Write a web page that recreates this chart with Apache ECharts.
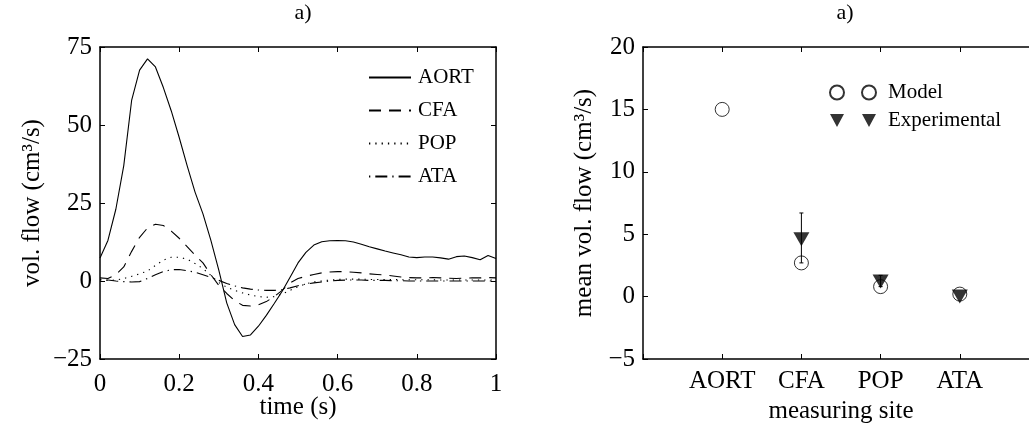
<!DOCTYPE html>
<html>
<head>
<meta charset="utf-8">
<script src="https://cdn.jsdelivr.net/npm/echarts@6/dist/echarts.min.js"></script>
<style>html,body{margin:0;padding:0;background:#fff}#c{width:1029px;height:428px}</style>
</head>
<body>
<div id="c"></div>
<script>
// ---- data ----
var time = [0,0.02,0.04,0.06,0.08,0.10,0.12,0.14,0.16,0.18,0.20,0.22,0.24,0.26,0.28,0.30,0.32,0.34,0.36,0.38,0.40,0.42,0.44,0.46,0.48,0.50,0.52,0.54,0.56,0.58,0.60,0.62,0.64,0.66,0.68,0.70,0.72,0.74,0.76,0.78,0.80,0.82,0.84,0.86,0.88,0.90,0.92,0.94,0.96,0.98,1.00];
var aort = [7.4,13,23,37,58,67.6,71.2,68.6,62,54.5,46,37,28.5,21.5,13,3.5,-7,-14,-17.8,-17.3,-14.5,-11,-7.2,-3.3,1.2,5.8,9.2,11.5,12.6,12.9,13,12.9,12.5,11.8,11,10.3,9.6,9,8.4,7.7,7.5,7.7,7.7,7.4,7,7.8,8,7.5,6.8,8.2,7.2];
var cfa = [1,0.8,2,4.5,9.5,14,17,18.2,17.8,16,13.7,11,8.3,5.8,2,-1.4,-4,-6.3,-7.8,-8,-7.6,-6.6,-5,-3,-0.6,0.8,1.5,2.1,2.6,2.9,3,3,2.8,2.6,2.3,2.1,1.9,1.6,1.3,1.1,1,1,1.1,1,0.9,0.8,0.9,1,1,1.1,1];
var pop = [0.3,0.2,0.3,0.8,1.5,2.3,3.2,5,6.7,7.6,7.6,7,5.6,4,1.8,-0.5,-2,-3,-3.8,-4.5,-5,-5.2,-5,-4.2,-3,-1.8,-0.9,-0.3,0,0.3,0.5,0.6,0.6,0.6,0.5,0.5,0.5,0.5,0.4,0.4,0.4,0.4,0.4,0.3,0.3,0.3,0.3,0.3,0.3,0.3,0.3];
var ata = [0.5,0.3,0,-0.2,-0.3,-0.2,0.8,2,3,3.6,3.7,3.3,2.8,2,1.2,0.2,-0.8,-1.6,-2.2,-2.6,-2.9,-3,-3,-2.8,-2.2,-1.5,-1,-0.6,-0.3,0,0.2,0.3,0.3,0.3,0.2,0.2,0.2,0.1,0.1,0,0,0,0,0,0,0,0,0,0,0,0];
var sites = ['AORT','CFA','POP','ATA'];
var modelMean = [15,2.7,0.8,0.2];
var expMean = [null,4.6,1.2,0];
var expLow = [null,2.7,0.8,null];
var expHigh = [null,6.7,1.7,null];

function pairs(xs, ys){ var o=[]; for(var i=0;i<xs.length;i++){ if(ys[i]!==null) o.push([xs[i],ys[i]]);} return o; }
var sitePos = sites.map(function(s,i){return i+1;});
var errData = []; for (var i=0;i<sites.length;i++){ if(expLow[i]!==null) errData.push([sitePos[i],expLow[i],expHigh[i]]); }

var F = 'Liberation Serif';
var black = '#000';
var FS = 25;
function minus(v){ return String(v).replace('-', '\u2212'); }
var frameLine = {show:true, onZero:false, lineStyle:{color:black, width:1.5}};
var tick = {show:true, inside:true, length:5, lineStyle:{color:black, width:1}};
var lab = {color:black, fontFamily:F, fontSize:FS};
var nameStyle = {fontFamily:F, fontSize:FS, color:black};

var chart = echarts.init(document.getElementById('c'), null, {renderer:'canvas'});
chart.setOption({
  animation:false,
  backgroundColor:'#fff',
  textStyle:{fontFamily:F, color:black},
  title:[
    {text:'a)', left:298, top:-3, textAlign:'center', textStyle:{fontFamily:F, fontSize:22, fontWeight:'normal', color:black}},
    {text:'a)', left:840, top:-3, textAlign:'center', textStyle:{fontFamily:F, fontSize:22, fontWeight:'normal', color:black}}
  ],
  legend:[
    {data:['AORT','CFA','POP','ATA'], orient:'vertical', left:363, top:62, itemWidth:42, itemHeight:16, itemGap:12,
     itemStyle:{opacity:0},
     textStyle:{fontFamily:F, fontSize:21, color:black, padding:[0,0,0,2]}},
    {data:[{name:'Model', icon:'path://M0,7A7,7 0 1,0 14,7A7,7 0 1,0 0,7ZM32,7A7,7 0 1,0 46,7A7,7 0 1,0 32,7Z'},
           {name:'Experimental', icon:'path://M0,0L14,0L7,13ZM32,0L46,0L39,13Z'}],
     orient:'vertical', left:824, top:77, itemWidth:46, itemHeight:14, itemGap:7,
     textStyle:{fontFamily:F, fontSize:21, color:black, padding:[0,0,0,7]}}
  ],
  grid:[
    {left:100, top:47, width:396, height:312, containLabel:false, outerBoundsMode:'none'},
    {left:643, top:47, width:396, height:312, containLabel:false, outerBoundsMode:'none'}
  ],
  xAxis:[
    {type:'value', gridIndex:0, min:0, max:1, interval:0.2, position:'bottom', axisLine:frameLine, axisTick:tick,
     splitLine:{show:false}, axisLabel:Object.assign({margin:13, formatter:function(v){return (v===0||v===1)?String(v):v.toFixed(1);}}, lab),
     name:'time (s)', nameLocation:'middle', nameGap:36, nameMoveOverlap:false, nameTextStyle:nameStyle},
    {type:'value', gridIndex:0, min:0, max:1, interval:0.2, position:'top', axisLine:frameLine, axisTick:tick,
     splitLine:{show:false}, axisLabel:{show:false}},
    {type:'value', gridIndex:1, min:0, max:5, interval:1, position:'bottom', axisLine:frameLine, axisTick:tick,
     splitLine:{show:false}, axisLabel:Object.assign({margin:10, formatter:function(v){return sites[v-1]||'';}}, lab),
     name:'measuring site', nameLocation:'middle', nameGap:37, nameTextStyle:nameStyle},
    {type:'value', gridIndex:1, min:0, max:5, interval:1, position:'top', axisLine:frameLine, axisTick:tick,
     splitLine:{show:false}, axisLabel:{show:false}}
  ],
  yAxis:[
    {type:'value', gridIndex:0, min:-25, max:75, interval:25, position:'left', axisLine:frameLine, axisTick:tick,
     splitLine:{show:false}, axisLabel:Object.assign({margin:8, formatter:minus}, lab),
     name:'vol. flow (cm\u00b3/s)', nameLocation:'middle', nameGap:55, nameTextStyle:nameStyle},
    {type:'value', gridIndex:0, min:-25, max:75, interval:25, position:'right', axisLine:frameLine, axisTick:tick,
     splitLine:{show:false}, axisLabel:{show:false}},
    {type:'value', gridIndex:1, min:-5, max:20, interval:5, position:'left', axisLine:frameLine, axisTick:tick,
     splitLine:{show:false}, axisLabel:Object.assign({margin:8, formatter:minus}, lab),
     name:'mean vol. flow (cm\u00b3/s)', nameLocation:'middle', nameGap:46, nameTextStyle:nameStyle},
    {type:'value', gridIndex:1, min:-5, max:20, interval:5, position:'right', axisLine:frameLine, axisTick:tick,
     splitLine:{show:false}, axisLabel:{show:false}}
  ],
  series:[
    {name:'AORT', type:'line', xAxisIndex:0, yAxisIndex:0, data:pairs(time,aort), showSymbol:false, symbol:'none', symbolSize:0,
     lineStyle:{color:black, width:1.1, type:'solid'}, itemStyle:{color:black}},
    {name:'CFA', type:'line', xAxisIndex:0, yAxisIndex:0, data:pairs(time,cfa), showSymbol:false, symbol:'none', symbolSize:0,
     lineStyle:{color:black, width:1.1, type:[12,8]}, itemStyle:{color:black}},
    {name:'POP', type:'line', xAxisIndex:0, yAxisIndex:0, data:pairs(time,pop), showSymbol:false, symbol:'none', symbolSize:0,
     lineStyle:{color:black, width:1.1, type:[1.3,5]}, itemStyle:{color:black}},
    {name:'ATA', type:'line', xAxisIndex:0, yAxisIndex:0, data:pairs(time,ata), showSymbol:false, symbol:'none', symbolSize:0,
     lineStyle:{color:black, width:1.1, type:[1.3,5,12,5]}, itemStyle:{color:black}},
    {name:'errbar', type:'custom', xAxisIndex:2, yAxisIndex:2, data:errData, silent:true, z:2,
     renderItem:function(params, api){
       var x = api.value(0), lo = api.coord([x, api.value(1)]), hi = api.coord([x, api.value(2)]);
       var c = 2;
       return {type:'group', children:[
         {type:'line', shape:{x1:lo[0],y1:lo[1],x2:hi[0],y2:hi[1]}, style:{stroke:black, lineWidth:1}},
         {type:'line', shape:{x1:lo[0]-c,y1:lo[1],x2:lo[0]+c,y2:lo[1]}, style:{stroke:black, lineWidth:1}},
         {type:'line', shape:{x1:hi[0]-c,y1:hi[1],x2:hi[0]+c,y2:hi[1]}, style:{stroke:black, lineWidth:1}}
       ]};
     }},
    {name:'Model', type:'scatter', xAxisIndex:2, yAxisIndex:2, data:pairs(sitePos, modelMean), symbol:'circle', symbolSize:14, z:3,
     itemStyle:{color:'rgba(0,0,0,0)', borderColor:black, borderWidth:1}},
    {name:'Experimental', type:'scatter', xAxisIndex:2, yAxisIndex:2, data:pairs(sitePos, expMean), symbol:'triangle', symbolRotate:180, symbolSize:[16,14], z:4,
     itemStyle:{color:black, borderColor:black, borderWidth:0}}
  ]
});
</script>
</body>
</html>
